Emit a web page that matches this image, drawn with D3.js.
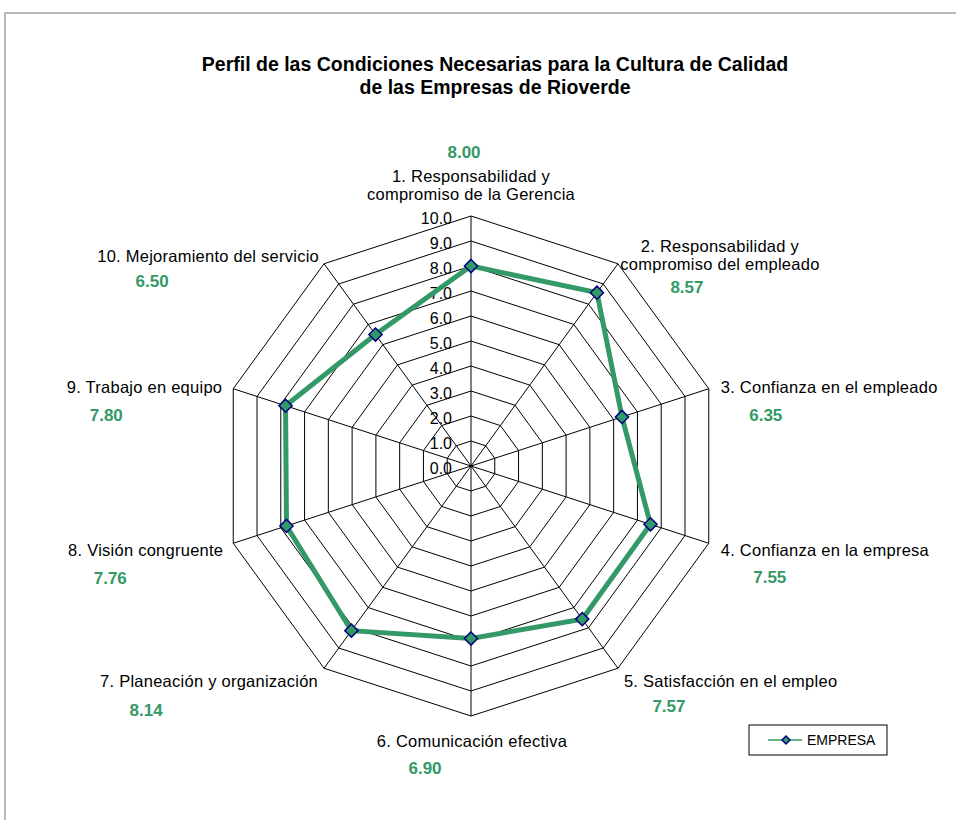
<!DOCTYPE html>
<html>
<head>
<meta charset="utf-8">
<script src="https://cdn.jsdelivr.net/npm/d3@7"></script>
<style>
  body { margin: 0; background: #fff; }
  text { font-family: "Liberation Sans", Arial, sans-serif; }
</style>
</head>
<body>
<div id="chart"></div>
<script>
// Data
var categories = [
  ["1. Responsabilidad y", "compromiso de la Gerencia"],
  ["2. Responsabilidad y", "compromiso del empleado"],
  ["3. Confianza en el empleado"],
  ["4. Confianza en la empresa"],
  ["5. Satisfacción en el empleo"],
  ["6. Comunicación efectiva"],
  ["7. Planeación y organización"],
  ["8. Visión congruente"],
  ["9. Trabajo en equipo"],
  ["10. Mejoramiento del servicio"]
];
var empresa = [8.00, 8.57, 6.35, 7.55, 7.57, 6.90, 8.14, 7.76, 7.80, 6.50];
var tickValues = [0, 1, 2, 3, 4, 5, 6, 7, 8, 9, 10];
var seriesName = "EMPRESA";
var titleLines = [
  "Perfil de las Condiciones Necesarias para la Cultura de Calidad",
  "de las Empresas de Rioverde"
];

// Label layout (offsets from each spoke end)
var catLayout = [
  {anchor: "middle", dx: 0,   dy: -34},
  {anchor: "middle", dx: 102, dy: -12},
  {anchor: "start",  dx: 12,  dy: 4},
  {anchor: "start",  dx: 12,  dy: 13},
  {anchor: "start",  dx: 6,   dy: 19},
  {anchor: "middle", dx: 1,   dy: 31},
  {anchor: "end",    dx: -6,  dy: 19},
  {anchor: "end",    dx: -10, dy: 13},
  {anchor: "end",    dx: -11, dy: 4},
  {anchor: "end",    dx: -5,  dy: -2}
];
var valLayout = [
  {dx: -7, dy: -58}, {dx: 69, dy: 29}, {dx: 57, dy: 32}, {dx: 61, dy: 40},
  {dx: 51, dy: 44}, {dx: -46, dy: 58}, {dx: -178, dy: 48}, {dx: -123, dy: 41},
  {dx: -127, dy: 32}, {dx: -172, dy: 23}
];

var svgWidth = 956, svgHeight = 820;
var cx = 471, cy = 466, radius = 250;
var green = "#339966";

var svg = d3.select("#chart").append("svg")
  .attr("width", svgWidth)
  .attr("height", svgHeight);

// outer frame
svg.append("rect")
  .attr("x", 5).attr("y", 13)
  .attr("width", 1000).attr("height", 900)
  .attr("fill", "none")
  .attr("stroke", "#b8b8b8")
  .attr("stroke-width", 2);

// title
svg.append("text")
  .attr("x", 495).attr("y", 71)
  .attr("text-anchor", "middle")
  .attr("font-size", 19.5)
  .attr("font-weight", "bold")
  .selectAll("tspan")
  .data(titleLines)
  .enter().append("tspan")
  .attr("x", 495)
  .attr("dy", (d, i) => i ? 23 : 0)
  .text(d => d);

var n = categories.length;
var r = d3.scaleLinear().domain([0, 10]).range([0, radius]);
var angle = d3.scaleLinear().domain([0, n]).range([0, 2 * Math.PI]);

var g = svg.append("g").attr("transform", `translate(${cx},${cy})`);

function pt(i, v) {
  var a = angle(i);
  return [r(v) * Math.sin(a), -r(v) * Math.cos(a)];
}

// grid rings
var ring = d3.lineRadial()
  .angle((d, i) => angle(i))
  .radius(d => r(d))
  .curve(d3.curveLinearClosed);

g.selectAll(".ring")
  .data(tickValues.filter(t => t > 0))
  .enter().append("path")
  .attr("class", "ring")
  .attr("d", t => ring(d3.range(n).map(() => t)))
  .attr("fill", "none")
  .attr("stroke", "#000")
  .attr("stroke-width", 1);

// spokes
g.selectAll(".spoke")
  .data(d3.range(n))
  .enter().append("line")
  .attr("class", "spoke")
  .attr("x1", 0).attr("y1", 0)
  .attr("x2", i => pt(i, 10)[0])
  .attr("y2", i => pt(i, 10)[1])
  .attr("stroke", "#000")
  .attr("stroke-width", 1);

// tick labels
g.selectAll(".tick")
  .data(tickValues)
  .enter().append("text")
  .attr("class", "tick")
  .attr("x", -19)
  .attr("y", t => -r(t) + 8)
  .attr("text-anchor", "end")
  .attr("font-size", 16)
  .attr("fill", "#000")
  .text(d3.format(".1f"));

// series line
g.append("path")
  .datum(empresa)
  .attr("d", ring)
  .attr("fill", "none")
  .attr("stroke", green)
  .attr("stroke-width", 5)
  .attr("stroke-linejoin", "miter");

// markers
var diamond = d3.symbol().type(d3.symbolDiamond2).size(110);
g.selectAll(".marker")
  .data(empresa)
  .enter().append("path")
  .attr("class", "marker")
  .attr("d", diamond)
  .attr("transform", (d, i) => `translate(${pt(i, d)[0]},${pt(i, d)[1]})`)
  .attr("fill", green)
  .attr("stroke", "#000080")
  .attr("stroke-width", 1.5);

// category labels
g.selectAll(".cat")
  .data(categories)
  .enter().append("text")
  .attr("class", "cat")
  .attr("text-anchor", (d, i) => catLayout[i].anchor)
  .attr("font-size", 16.5)
  .attr("letter-spacing", 0.25)
  .attr("fill", "#000")
  .each(function (d, i) {
    var end = pt(i, 10);
    var x = end[0] + catLayout[i].dx;
    var y = end[1] + catLayout[i].dy;
    d3.select(this).selectAll("tspan")
      .data(d)
      .enter().append("tspan")
      .attr("x", x)
      .attr("y", (s, j) => y + j * 18)
      .text(s => s);
  });

// value labels
g.selectAll(".val")
  .data(empresa)
  .enter().append("text")
  .attr("class", "val")
  .attr("x", (d, i) => pt(i, 10)[0] + valLayout[i].dx)
  .attr("y", (d, i) => pt(i, 10)[1] + valLayout[i].dy)
  .attr("text-anchor", "middle")
  .attr("font-size", 17)
  .attr("font-weight", "bold")
  .attr("fill", green)
  .text(d3.format(".2f"));

// legend
var legend = svg.append("g").attr("transform", "translate(749,725)");
legend.append("rect")
  .attr("width", 138).attr("height", 30)
  .attr("fill", "#fff")
  .attr("stroke", "#000")
  .attr("stroke-width", 1);
legend.append("line")
  .attr("x1", 19).attr("x2", 53)
  .attr("y1", 15).attr("y2", 15)
  .attr("stroke", green)
  .attr("stroke-width", 1.5);
legend.append("path")
  .attr("d", d3.symbol().type(d3.symbolDiamond2).size(40))
  .attr("transform", "translate(37,15)")
  .attr("fill", green)
  .attr("stroke", "#000080")
  .attr("stroke-width", 1.5);
legend.append("text")
  .attr("x", 58).attr("y", 20)
  .attr("font-size", 14)
  .text(seriesName);
</script>
</body>
</html>
